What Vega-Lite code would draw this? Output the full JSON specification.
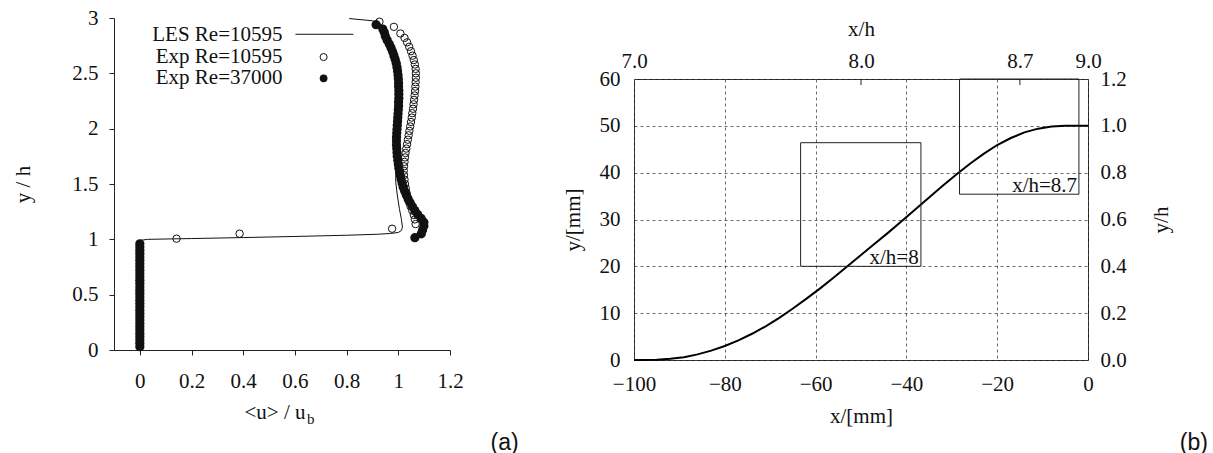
{
  "$schema": "https://vega.github.io/schema/vega-lite/v6.json",
  "background": "white",
  "padding": {"left": 12, "top": 7, "right": 0, "bottom": 0},
  "spacing": 42,
  "config": {
    "view": {"stroke": null},
    "font": "Liberation Serif",
    "axis": {
      "labelFont": "Liberation Serif", "titleFont": "Liberation Serif",
      "labelFontSize": 21, "titleFontSize": 21, "titleFontWeight": "normal",
      "labelColor": "#111", "titleColor": "#111",
      "domainColor": "#222", "tickColor": "#222", "labelFlush": false, "labelOverlap": false
    }
  },
  "hconcat": [
    {
      "width": 336, "height": 332,
      "encoding": {
        "x": {"field": "u", "type": "quantitative",
          "scale": {"domain": [-0.1, 1.2], "nice": false, "zero": false},
          "axis": {"values": [0, 0.2, 0.4, 0.6, 0.8, 1, 1.2], "format": "~g", "grid": false, "tickSize": 5, "labelPadding": 15, "title": null}},
        "y": {"field": "y", "type": "quantitative",
          "scale": {"domain": [0, 3], "nice": false, "zero": false},
          "axis": {"values": [0, 0.5, 1, 1.5, 2, 2.5, 3], "format": "~g", "grid": false, "tickSize": 5, "labelPadding": 11, "title": "y / h", "titlePadding": 38}}
      },
      "layer": [
        {
          "data": {"values": [
            {"i": 0, "u": 0, "y": 0}, {"i": 1, "u": 0, "y": 0.99}, {"i": 2, "u": 0.03, "y": 1.0},
            {"i": 3, "u": 0.2, "y": 1.007}, {"i": 4, "u": 0.4, "y": 1.016}, {"i": 5, "u": 0.6, "y": 1.026},
            {"i": 6, "u": 0.8, "y": 1.037}, {"i": 7, "u": 0.92, "y": 1.046}, {"i": 8, "u": 0.97, "y": 1.053},
            {"i": 9, "u": 1.0, "y": 1.062}, {"i": 10, "u": 1.012, "y": 1.08}, {"i": 11, "u": 1.016, "y": 1.11},
            {"i": 12, "u": 1.012, "y": 1.18}, {"i": 13, "u": 1.004, "y": 1.28}, {"i": 14, "u": 0.996, "y": 1.4},
            {"i": 15, "u": 0.99, "y": 1.52}, {"i": 16, "u": 0.99, "y": 1.62}, {"i": 17, "u": 0.988, "y": 1.8},
            {"i": 18, "u": 0.988, "y": 2.0}, {"i": 19, "u": 0.993, "y": 2.2}, {"i": 20, "u": 0.995, "y": 2.4},
            {"i": 21, "u": 0.99, "y": 2.55}, {"i": 22, "u": 0.978, "y": 2.7}, {"i": 23, "u": 0.962, "y": 2.82},
            {"i": 24, "u": 0.945, "y": 2.9}, {"i": 25, "u": 0.93, "y": 2.95}, {"i": 26, "u": 0.9, "y": 2.975},
            {"i": 27, "u": 0.81, "y": 2.995}
          ]},
          "mark": {"type": "line", "color": "#111", "strokeWidth": 1},
          "encoding": {"order": {"field": "i"}}
        },
        {
          "data": {"values": [
            {"u": 0, "y": 0.03}, {"u": 0, "y": 0.06}, {"u": 0, "y": 0.09}, {"u": 0, "y": 0.12}, {"u": 0, "y": 0.15},
            {"u": 0, "y": 0.18}, {"u": 0, "y": 0.21}, {"u": 0, "y": 0.24}, {"u": 0, "y": 0.27}, {"u": 0, "y": 0.3},
            {"u": 0, "y": 0.33}, {"u": 0, "y": 0.36}, {"u": 0, "y": 0.39}, {"u": 0, "y": 0.42}, {"u": 0, "y": 0.45},
            {"u": 0, "y": 0.48}, {"u": 0, "y": 0.51}, {"u": 0, "y": 0.54}, {"u": 0, "y": 0.57}, {"u": 0, "y": 0.6},
            {"u": 0, "y": 0.63}, {"u": 0, "y": 0.66}, {"u": 0, "y": 0.69}, {"u": 0, "y": 0.72}, {"u": 0, "y": 0.75},
            {"u": 0, "y": 0.78}, {"u": 0, "y": 0.81}, {"u": 0, "y": 0.84}, {"u": 0, "y": 0.87}, {"u": 0, "y": 0.9},
            {"u": 0, "y": 0.93}, {"u": 0, "y": 0.96},
            {"u": 1.064, "y": 1.015}, {"u": 1.089, "y": 1.05}, {"u": 1.094, "y": 1.085}, {"u": 1.099, "y": 1.12},
            {"u": 1.099, "y": 1.155}, {"u": 1.088, "y": 1.19}, {"u": 1.075, "y": 1.225}, {"u": 1.064, "y": 1.26},
            {"u": 1.055, "y": 1.295}, {"u": 1.046, "y": 1.33}, {"u": 1.038, "y": 1.365}, {"u": 1.031, "y": 1.4},
            {"u": 1.025, "y": 1.435}, {"u": 1.019, "y": 1.47}, {"u": 1.015, "y": 1.505}, {"u": 1.011, "y": 1.54},
            {"u": 1.008, "y": 1.575}, {"u": 1.005, "y": 1.61}, {"u": 1.002, "y": 1.645}, {"u": 1.0, "y": 1.68},
            {"u": 0.998, "y": 1.715}, {"u": 0.996, "y": 1.75}, {"u": 0.995, "y": 1.785}, {"u": 0.994, "y": 1.82},
            {"u": 0.993, "y": 1.855}, {"u": 0.993, "y": 1.89}, {"u": 0.993, "y": 1.925}, {"u": 0.994, "y": 1.96},
            {"u": 0.995, "y": 1.995}, {"u": 0.996, "y": 2.03}, {"u": 0.997, "y": 2.065}, {"u": 0.998, "y": 2.1},
            {"u": 0.999, "y": 2.135}, {"u": 1.0, "y": 2.17}, {"u": 1.001, "y": 2.205}, {"u": 1.001, "y": 2.24},
            {"u": 1.002, "y": 2.275}, {"u": 1.002, "y": 2.31}, {"u": 1.002, "y": 2.345}, {"u": 1.001, "y": 2.38},
            {"u": 1.001, "y": 2.415}, {"u": 1.0, "y": 2.45}, {"u": 0.999, "y": 2.485}, {"u": 0.997, "y": 2.52},
            {"u": 0.995, "y": 2.555}, {"u": 0.992, "y": 2.59}, {"u": 0.988, "y": 2.625}, {"u": 0.983, "y": 2.66},
            {"u": 0.978, "y": 2.695}, {"u": 0.972, "y": 2.73}, {"u": 0.965, "y": 2.765}, {"u": 0.957, "y": 2.8},
            {"u": 0.95, "y": 2.835}, {"u": 0.946, "y": 2.87}, {"u": 0.94, "y": 2.9}, {"u": 0.914, "y": 2.94}
          ]},
          "mark": {"type": "circle", "color": "#111", "size": 85, "opacity": 1}
        },
        {
          "data": {"values": [
            {"u": 0.142, "y": 1.006}, {"u": 0.386, "y": 1.051}, {"u": 0.976, "y": 1.096},
            {"u": 1.067, "y": 1.138}, {"u": 1.064, "y": 1.18}, {"u": 1.06, "y": 1.22}, {"u": 1.054, "y": 1.26},
            {"u": 1.047, "y": 1.3}, {"u": 1.041, "y": 1.34}, {"u": 1.036, "y": 1.38}, {"u": 1.032, "y": 1.42},
            {"u": 1.029, "y": 1.46}, {"u": 1.026, "y": 1.5}, {"u": 1.024, "y": 1.54}, {"u": 1.022, "y": 1.58},
            {"u": 1.021, "y": 1.62}, {"u": 1.022, "y": 1.66}, {"u": 1.024, "y": 1.7}, {"u": 1.026, "y": 1.74},
            {"u": 1.028, "y": 1.78}, {"u": 1.031, "y": 1.82}, {"u": 1.034, "y": 1.86}, {"u": 1.037, "y": 1.9},
            {"u": 1.04, "y": 1.94}, {"u": 1.043, "y": 1.98}, {"u": 1.046, "y": 2.02}, {"u": 1.049, "y": 2.06},
            {"u": 1.052, "y": 2.1}, {"u": 1.054, "y": 2.14}, {"u": 1.057, "y": 2.18}, {"u": 1.059, "y": 2.22},
            {"u": 1.061, "y": 2.26}, {"u": 1.063, "y": 2.3}, {"u": 1.065, "y": 2.34}, {"u": 1.066, "y": 2.38},
            {"u": 1.067, "y": 2.42}, {"u": 1.068, "y": 2.46}, {"u": 1.068, "y": 2.5}, {"u": 1.067, "y": 2.54},
            {"u": 1.064, "y": 2.58}, {"u": 1.06, "y": 2.62}, {"u": 1.055, "y": 2.66}, {"u": 1.049, "y": 2.7},
            {"u": 1.042, "y": 2.74}, {"u": 1.034, "y": 2.78}, {"u": 1.024, "y": 2.82}, {"u": 1.008, "y": 2.86},
            {"u": 0.983, "y": 2.92}, {"u": 0.927, "y": 2.966}
          ]},
          "mark": {"type": "point", "shape": "circle", "filled": false, "color": "#111", "size": 55, "strokeWidth": 1, "opacity": 1}
        },
        {
          "data": {"values": [
            {"u": 0.552, "y": 2.846, "t": "LES Re=10595"},
            {"u": 0.552, "y": 2.647, "t": "Exp Re=10595"},
            {"u": 0.552, "y": 2.457, "t": "Exp Re=37000"}
          ]},
          "mark": {"type": "text", "align": "right", "baseline": "middle", "fontSize": 21, "font": "Liberation Serif", "color": "#111"},
          "encoding": {"text": {"field": "t"}}
        },
        {
          "data": {"values": [{"u": 0.602, "y": 2.853}, {"u": 0.826, "y": 2.853}]},
          "mark": {"type": "line", "color": "#111", "strokeWidth": 1}
        },
        {
          "data": {"values": [{"u": 0.711, "y": 2.647}]},
          "mark": {"type": "point", "shape": "circle", "filled": false, "color": "#111", "size": 50, "strokeWidth": 1, "opacity": 1}
        },
        {
          "data": {"values": [{"u": 0.711, "y": 2.455}]},
          "mark": {"type": "circle", "color": "#111", "size": 60, "opacity": 1}
        },
        {
          "data": {"values": [{"u": 0.641, "y": -0.569, "t": "<u> / u"}]},
          "mark": {"type": "text", "align": "right", "baseline": "middle", "fontSize": 21, "font": "Liberation Serif", "color": "#111"},
          "encoding": {"text": {"field": "t"}}
        },
        {
          "data": {"values": [{"u": 0.647, "y": -0.62, "t": "b"}]},
          "mark": {"type": "text", "align": "left", "baseline": "middle", "fontSize": 15, "font": "Liberation Serif", "color": "#111"},
          "encoding": {"text": {"field": "t"}}
        },
        {
          "data": {"values": [{"u": 1.411, "y": -0.84, "t": "(a)"}]},
          "mark": {"type": "text", "align": "center", "baseline": "middle", "fontSize": 23, "font": "Liberation Sans", "color": "#111"},
          "encoding": {"text": {"field": "t"}}
        }
      ]
    },
    {
      "spacing": -2,
      "vconcat": [
        {
          "width": 1, "height": 1,
          "data": {"values": []},
          "mark": "point"
        },
        {
          "width": 454, "height": 281,
          "view": {"stroke": "#222", "strokeWidth": 1},
          "layer": [
            {
              "data": {"values": [
                {"x": -100, "y": 0}, {"x": -98, "y": 0.01}, {"x": -95, "y": 0.07}, {"x": -92, "y": 0.25},
                {"x": -89, "y": 0.6}, {"x": -86, "y": 1.2}, {"x": -83, "y": 2.0}, {"x": -80, "y": 3.0},
                {"x": -77, "y": 4.2}, {"x": -74, "y": 5.6}, {"x": -71, "y": 7.2}, {"x": -68, "y": 9.0},
                {"x": -65, "y": 11.0}, {"x": -62, "y": 13.1}, {"x": -59, "y": 15.3}, {"x": -56, "y": 17.6},
                {"x": -53, "y": 20.0}, {"x": -50, "y": 22.4}, {"x": -47, "y": 24.8}, {"x": -44, "y": 27.2},
                {"x": -41, "y": 29.7}, {"x": -38, "y": 32.2}, {"x": -35, "y": 34.7}, {"x": -32, "y": 37.2},
                {"x": -29, "y": 39.6}, {"x": -26, "y": 41.9}, {"x": -23, "y": 44.0}, {"x": -20, "y": 45.9},
                {"x": -17, "y": 47.4}, {"x": -14, "y": 48.6}, {"x": -11, "y": 49.4}, {"x": -8, "y": 49.85},
                {"x": -5, "y": 50}, {"x": -2, "y": 50}, {"x": 0, "y": 50}
              ]},
              "mark": {"type": "line", "color": "#000", "strokeWidth": 2},
              "encoding": {
                "x": {"field": "x", "type": "quantitative",
                  "scale": {"domain": [-100, 0], "nice": false, "zero": false},
                  "axis": {"orient": "bottom", "values": [-100, -80, -60, -40, -20, 0], "format": "d", "domain": false, "ticks": false, "tickSize": 0, "labelPadding": 13,
                    "grid": true, "gridDash": [3, 3], "gridColor": "#444", "gridWidth": 0.8, "title": "x/[mm]", "titlePadding": 11}},
                "y": {"field": "y", "type": "quantitative",
                  "scale": {"domain": [0, 60], "nice": false, "zero": false},
                  "axis": {"orient": "left", "values": [0, 10, 20, 30, 40, 50, 60], "format": "d", "domain": false, "ticks": false, "tickSize": 0, "labelPadding": 14,
                    "grid": true, "gridDash": [3, 3], "gridColor": "#444", "gridWidth": 0.8, "title": "y/[mm]", "titlePadding": 16}}
              }
            },
            {
              "data": {"values": [
                {"x": -63.3, "x2": -36.8, "y": 20, "y2": 46.4},
                {"x": -28.3, "x2": -2, "y": 35.4, "y2": 60}
              ]},
              "mark": {"type": "rect", "fill": null, "fillOpacity": 0, "stroke": "#222", "strokeWidth": 1},
              "encoding": {
                "x": {"field": "x", "type": "quantitative",
                  "scale": {"domain": [-100, 0], "nice": false, "zero": false},
                  "axis": {"orient": "top", "values": [-100, -50, -15, 0], "labelExpr": "format((datum.value + 450) / 50, '.1f')", "domain": false, "ticks": false, "tickSize": 0, "labelPadding": 8,
                    "grid": false, "title": "x/h", "titlePadding": 11}},
                "x2": {"field": "x2"},
                "y": {"field": "y", "type": "quantitative",
                  "scale": {"domain": [0, 60], "nice": false, "zero": false},
                  "axis": {"orient": "right", "values": [0, 10, 20, 30, 40, 50, 60], "labelExpr": "format(datum.value / 50, '.1f')", "domain": false, "ticks": false, "tickSize": 0, "labelPadding": 12,
                    "grid": false, "title": "y/h", "titleAngle": 270, "titlePadding": 45}},
                "y2": {"field": "y2"}
              }
            },
            {
              "data": {"values": [{"x": -50, "y": 60, "y2": 58.7}, {"x": -15, "y": 60, "y2": 58.7}]},
              "mark": {"type": "rule", "color": "#222", "strokeWidth": 1},
              "encoding": {
                "x": {"field": "x", "type": "quantitative", "scale": {"domain": [-100, 0], "nice": false, "zero": false}, "axis": null},
                "y": {"field": "y", "type": "quantitative", "scale": {"domain": [0, 60], "nice": false, "zero": false}, "axis": null},
                "y2": {"field": "y2"}
              }
            },
            {
              "data": {"values": [
                {"x": -37.3, "y": 20.6, "t": "x/h=8"},
                {"x": -2.4, "y": 35.9, "t": "x/h=8.7"}
              ]},
              "mark": {"type": "text", "align": "right", "baseline": "alphabetic", "fontSize": 21, "font": "Liberation Serif", "color": "#111"},
              "encoding": {
                "x": {"field": "x", "type": "quantitative", "scale": {"domain": [-100, 0], "nice": false, "zero": false}, "axis": null},
                "y": {"field": "y", "type": "quantitative", "scale": {"domain": [0, 60], "nice": false, "zero": false}, "axis": null},
                "text": {"field": "t"}
              }
            },
            {
              "data": {"values": [{"x": 23.3, "y": -17.7, "t": "(b)"}]},
              "mark": {"type": "text", "align": "center", "baseline": "middle", "fontSize": 23, "font": "Liberation Sans", "color": "#111"},
              "encoding": {
                "x": {"field": "x", "type": "quantitative", "scale": {"domain": [-100, 0], "nice": false, "zero": false}, "axis": null},
                "y": {"field": "y", "type": "quantitative", "scale": {"domain": [0, 60], "nice": false, "zero": false}, "axis": null},
                "text": {"field": "t"}
              }
            }
          ],
          "resolve": {"axis": {"x": "independent", "y": "independent"}}
        }
      ]
    }
  ]
}
